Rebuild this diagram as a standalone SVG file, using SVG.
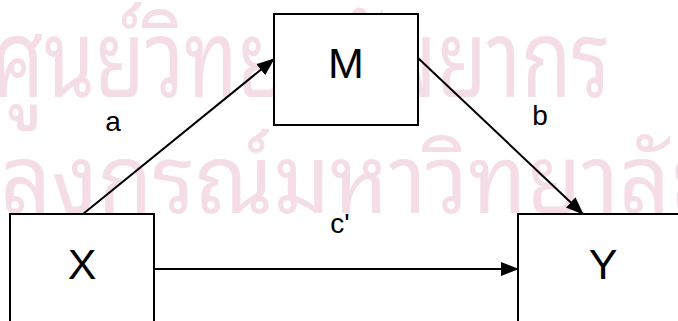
<svg xmlns="http://www.w3.org/2000/svg" width="678" height="321" viewBox="0 0 678 321">
  <style>
    .wm { font-family: "Noto Sans Thai Looped", "Noto Sans Thai", "Loma", "Garuda", "Noto Sans", "DejaVu Sans", sans-serif; fill: #f4dde7; }
    .box { fill: #ffffff; stroke: #000000; stroke-width: 2; }
    .big { font-family: "Liberation Sans", Arial, sans-serif; font-size: 43px; fill: #000000; text-anchor: middle; }
    .lbl { font-family: "Liberation Sans", Arial, sans-serif; font-size: 28px; fill: #000000; text-anchor: middle; }
    .edge { fill: none; stroke: #000000; stroke-width: 2; marker-end: url(#arrow); }
  </style>
  <defs>
    <marker id="arrow" viewBox="0 0 18 14" refX="17" refY="7" markerWidth="18" markerHeight="14" markerUnits="userSpaceOnUse" orient="auto">
      <path d="M0,0 L18,7 L0,14 z" fill="#000000"/>
    </marker>
  </defs>
  <rect width="678" height="321" fill="#ffffff"/>
  <g id="watermark">
    <text class="wm" x="-8" y="97" font-size="108" textLength="618" lengthAdjust="spacingAndGlyphs">ศูนย์วิทยทรัพยากร</text>
    <text class="wm" x="-148" y="213" font-size="95" textLength="873" lengthAdjust="spacingAndGlyphs">จุฬาลงกรณ์มหาวิทยาลัย</text>
  </g>
  <g id="connectors">
    <line class="edge" x1="83" y1="214" x2="274" y2="59"/>
    <line class="edge" x1="418" y1="58" x2="583" y2="214"/>
    <line class="edge" x1="154" y1="269" x2="518" y2="269"/>
  </g>
  <g id="node-M">
    <rect class="box" x="274" y="14" width="144" height="111"/>
    <text class="big" x="346" y="78">M</text>
  </g>
  <g id="node-X">
    <rect class="box" x="10" y="214" width="144" height="120"/>
    <text class="big" x="82" y="279">X</text>
  </g>
  <g id="node-Y">
    <rect class="box" x="518" y="214" width="170" height="120"/>
    <text class="big" x="603" y="279">Y</text>
  </g>
  <g id="labels">
    <text class="lbl" x="113" y="131">a</text>
    <text class="lbl" x="540" y="125">b</text>
    <text class="lbl" x="340" y="233">c'</text>
  </g>
</svg>
